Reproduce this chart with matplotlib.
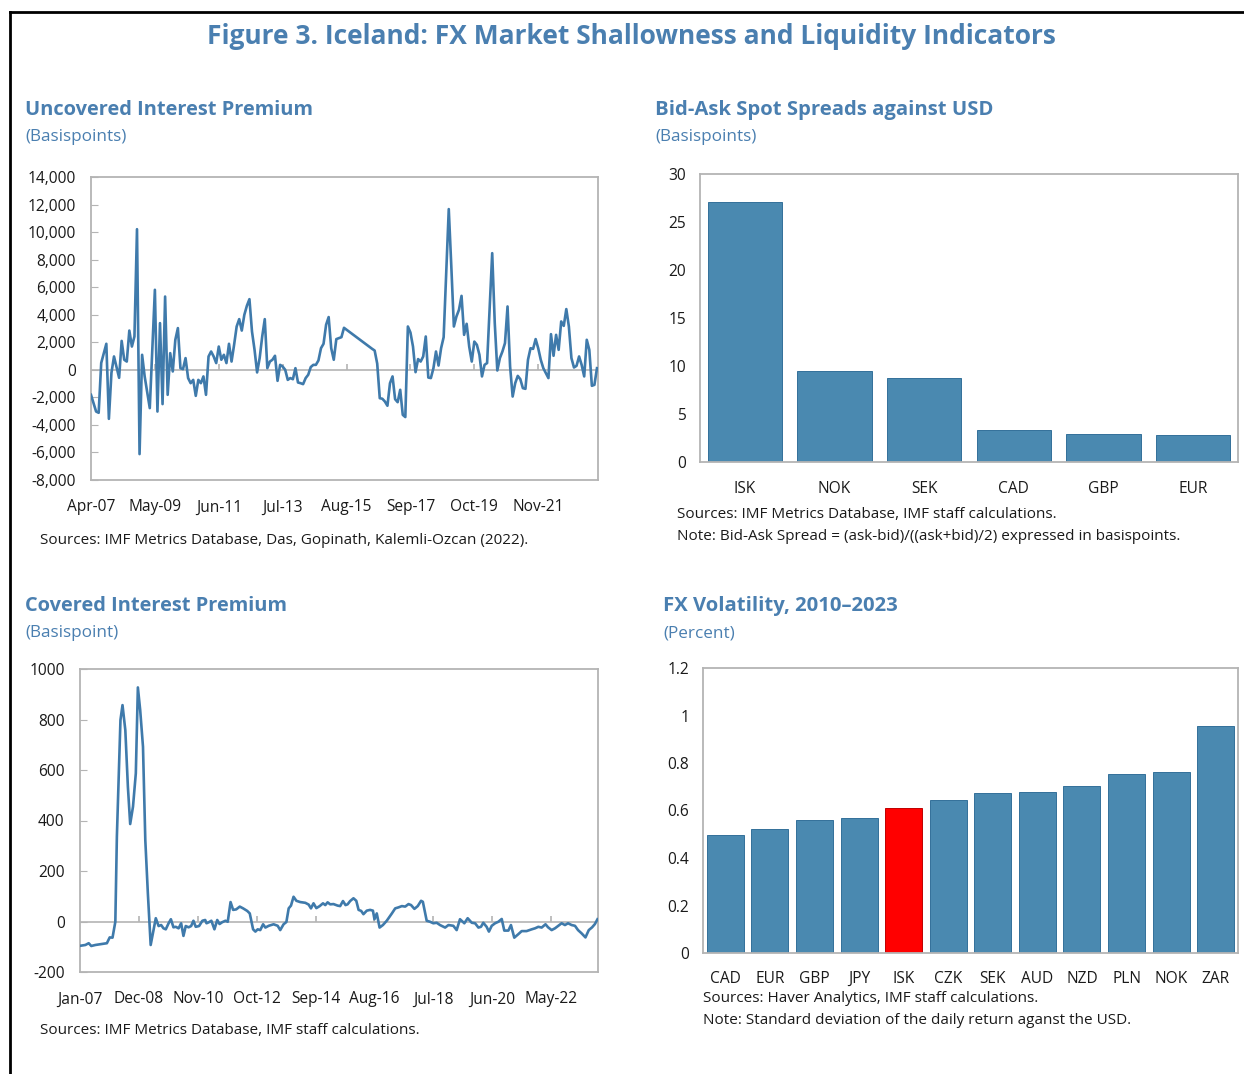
import matplotlib
matplotlib.use("Agg")
import matplotlib.pyplot as plt
import numpy as np

plt.rcParams['font.family'] = ['Open Sans', 'DejaVu Sans']

# ---------------- DATA ----------------
# Uncovered interest premium (basis points), months since Apr-2007
uip_month = [0, 2, 3, 4, 6, 7, 8, 9, 11, 12, 13, 14, 15, 16, 17, 18, 19, 20, 21, 23,
             25, 26, 27, 28, 29, 30, 31, 32, 33, 34, 35, 36, 37, 38, 39, 40, 41, 42, 43, 44,
             45, 46, 47, 48, 49, 50, 51,
             52, 53, 54, 55, 56, 57, 58, 59, 60, 61, 62, 63, 64, 65, 66, 67, 68, 69, 70,
             71, 72, 73, 74, 75, 76, 77, 78, 79, 80, 81, 82, 83, 84, 85, 86, 87, 88, 89,
             90, 91, 92, 93, 94, 95, 96, 97, 98, 99,
             110, 111, 112, 113, 114, 115, 116, 117, 118, 119, 120, 121, 122, 123, 124,
             125, 126, 127, 128, 129, 130, 131, 132, 133, 134, 135, 136, 137, 138, 140,
             141, 142, 143, 144, 145, 146, 147, 148, 149, 150, 151, 152, 153, 154, 155,
             157, 158, 159, 160, 161, 162, 163, 164, 165, 166, 167, 168, 169, 170, 171,
             172, 173, 174, 175, 176, 177, 178, 179, 180, 181, 182, 183, 184, 185, 186,
             187, 188, 189, 190, 191, 192, 193, 194, 195, 196, 197, 198]
uip_value = [-1815, -3030, -3120, 500, 1890, -3560, -220, 970, -580, 2100, 730, 600, 2850,
             1690, 2420, 10210, -6120, 1090, -480, -2780, 5810, -3030, 3390, -2490, 5320,
             -1815, 1210, -120, 2180, 3030, 120, 50, 850, -600, -970, -730, -1890, -730,
             -970, -480, -1815, 970, 1330, 970, 490, 1690, 730,
             1090, 490, 1890, 600, 1815, 3145, 3680, 2850, 3990, 4650, 5130, 2780, 1450,
             -190, 850, 2420, 3680, 120, 600, 730, 1020, -800, 360, 240, 0, -730, -600,
             -680, 120, -920, -970, -1040, -600, -360, 200, 360, 360, 680, 1570, 1890,
             3270, 3830, 1570, 730, 2230, 2300, 2370, 3050,
             1525, 1400, 450, -2060, -2100, -2300, -2610, -970, -480, -2130, -2350, -1450,
             -3270, -3430, 3145, 2710, 1690, -170, 780, 600, 970, 2420, -560, -600, 120,
             1330, 310, 1570, 2370, 11670, 7500, 3145, 3870, 4360, 5370, 2540, 3340, 1690,
             600, 2050, 1815, 1090, -480, 360, 490, 8470, 3390, -50, 850, 1330, 1940,
             4600, 240, -1940, -970, -440, -680, -1330, -1380, 730, 1570, 1520, 2230,
             1570, 730, 120, -240, -600, 2590, 1020, 2540, 1450, 3510, 3190, 4410, 3145,
             850, 170, 290, 970, 360, -480, 2180, 1450, -1160, -1090, 120]
uip_ticks = [0, 25, 50, 75, 100, 125, 150, 175]
uip_ticklabels = ['Apr-07', 'May-09', 'Jun-11', 'Jul-13', 'Aug-15', 'Sep-17', 'Oct-19', 'Nov-21']

# Covered interest premium (basis points), months since Jan-2007
cip_month = [0.2, 2.1, 3.4, 4.4, 6.0, 8.0, 10.5, 11.6, 12.7, 13.8, 14.4, 15.8, 16.6, 17.7,
             18.7, 19.6, 20.7, 21.8, 22.6, 23.5, 24.6, 25.5, 26.5, 27.6, 28.6, 29.6, 30.7,
             31.7, 32.6, 33.5, 34.6, 35.5, 36.5, 37.4, 38.5, 39.5, 40.4, 41.3, 42.4, 43.4,
             44.3, 45.2, 46.5, 47.8, 48.9,
             49.4, 50.3, 51.3, 52.5, 53.6, 54.5, 55.5, 56.8, 57.7, 58.8, 59.8, 61.0, 62.4,
             63.7, 65.3, 66.3, 67.6, 68.5, 69.4, 70.4, 71.5, 72.4, 73.7, 75.6, 77.2, 78.2,
             79.5, 80.6, 81.5, 82.4, 83.4, 84.5, 86.0, 88.0, 89.3, 90.2, 91.2, 92.3, 93.6,
             94.9, 95.8, 96.7, 97.7, 99.0, 100.6, 101.6, 102.7, 103.7, 104.5, 105.5, 106.8,
             107.9, 108.8, 109.8, 110.7, 112.0, 113.3, 114.4, 115.0, 115.9, 117.0, 118.3,
             119.8, 121.8, 123.1,
             124.4, 125.7, 127.0, 128.3, 129.3, 130.6, 131.9, 133.2, 133.9, 135.4, 136.7,
             138.0, 139.3, 140.6, 142.6, 143.9, 145.8, 147.1, 148.4, 150.1, 151.4, 153.0,
             154.3, 155.6, 156.6, 157.5, 158.8, 159.7, 160.8, 162.1, 163.4, 164.7, 165.7,
             167.3, 168.3, 169.6, 171.2, 172.5, 174.4, 176.4, 177.7, 179.0, 180.3, 181.8,
             182.8, 184.2, 185.5, 186.7, 188.1, 189.4, 190.6, 192.0, 193.3, 194.5, 195.9,
             197.4, 198.7, 200.0, 201.1, 202.1]
cip_value = [-96, -93, -86, -97, -93, -90, -86, -63, -64, -1, 336, 798, 857, 758, 534, 386,
             455, 587, 927, 838, 692, 323, 112, -93, -40, 13, -18, -14, -27, -31, -7, 9,
             -23, -21, -27, -7, -57, -18, -23, -18, 3, -21, -18, 3, 6,
             -7, -3, 3, -31, 6, -10, -3, 3, -1, 77, 46, 48, 59, 52, 42, 32, -31, -40, -31,
             -34, -11, -24, -17, -11, -17, -34, -11, -2, 52, 63, 98, 82, 77, 74, 67, 52, 72,
             53, 61, 72, 65, 76, 68, 69, 63, 61, 81, 65, 68, 81, 92, 82, 46, 42, 29, 43, 46,
             43, 9, 32, -24, -14, 3, 32, 52,
             56, 61, 59, 69, 65, 50, 61, 82, 78, 3, -1, -7, -5, -14, -24, -14, -17, -34, 9,
             -7, 13, -5, -7, -24, -21, -5, -21, -40, -17, -7, -1, 10, -36, -36, -14, -64,
             -50, -38, -38, -31, -27, -21, -24, -11, -23, -34, -27, -18, -7, -14, -7, -14,
             -17, -34, -47, -63, -34, -23, -10, 9]
cip_ticks = [0, 23, 46, 69, 92, 115, 138, 161, 184]
cip_ticklabels = ['Jan-07', 'Dec-08', 'Nov-10', 'Oct-12', 'Sep-14', 'Aug-16', 'Jul-18',
                  'Jun-20', 'May-22']

# Bid-ask spreads (basis points)
ba_currency = ['ISK', 'NOK', 'SEK', 'CAD', 'GBP', 'EUR']
ba_spread = [27.1, 9.5, 8.7, 3.35, 2.95, 2.85]

# FX volatility 2010-2023 (percent)
vol_currency = ['CAD', 'EUR', 'GBP', 'JPY', 'ISK', 'CZK', 'SEK', 'AUD', 'NZD', 'PLN', 'NOK', 'ZAR']
vol_value = [0.497, 0.522, 0.562, 0.568, 0.612, 0.646, 0.674, 0.678, 0.703, 0.754, 0.763, 0.956]

# ---------------- STYLE ----------------
W, H = 1244, 1074
BLUE_T = '#4a7fb0'
LINE_C = '#3f7aab'
BAR_C = '#4a89b0'
BAR_E = '#33709a'
GRID_C = '#b4b4b4'
TXT = '#1a1a1a'
TICK_FS = 11.2

fig = plt.figure(figsize=(W / 100, H / 100), dpi=100)


def rect(l, t, r, b):
    return [l / W, 1 - b / H, (r - l) / W, (b - t) / H]


def ftext(x, y, s, **kw):
    fig.text(x / W, 1 - y / H, s, **kw)


# outer frame (left and top rule)
fig.add_artist(plt.Line2D([10 / W, 10 / W], [0, 1 - 12 / H], color='black', lw=2,
                          transform=fig.transFigure))
fig.add_artist(plt.Line2D([10 / W, 1], [1 - 12 / H, 1 - 12 / H], color='black', lw=2,
                          transform=fig.transFigure))

ftext(631, 37, 'Figure 3. Iceland: FX Market Shallowness and Liquidity Indicators',
      ha='center', va='center', color=BLUE_T, fontsize=19, fontweight='bold')


def style_box(ax):
    for s in ax.spines.values():
        s.set_color(GRID_C)
        s.set_linewidth(1.3)


def line_panel(rect_px, months, values, ylim, yticks, yfmt, xlim, xticks, xlabels, tick_h):
    ax = fig.add_axes(rect(*rect_px))
    ax.plot(months, values, color=LINE_C, lw=1.9, solid_joinstyle='round', zorder=3)
    ax.axhline(0, color=GRID_C, lw=1.2, zorder=1)
    ax.vlines(xticks[1:], 0, tick_h, color=GRID_C, lw=1.2, zorder=1)
    ax.set_xlim(*xlim)
    ax.set_ylim(*ylim)
    ax.set_yticks(yticks)
    ax.set_yticklabels([yfmt(v) for v in yticks])
    ax.set_xticks(xticks)
    ax.set_xticklabels(xlabels)
    ax.tick_params(axis='y', direction='in', length=5, color=GRID_C, pad=11,
                   labelsize=TICK_FS, labelcolor=TXT)
    ax.tick_params(axis='x', length=0, pad=14, labelsize=TICK_FS, labelcolor=TXT)
    style_box(ax)
    return ax


# ---- Uncovered Interest Premium ----
ftext(25, 110, 'Uncovered Interest Premium', ha='left', va='center', color=BLUE_T,
      fontsize=14.4, fontweight='bold')
ftext(25, 137, '(Basispoints)', ha='left', va='center', color=BLUE_T, fontsize=12.3)
line_panel((91, 177, 598, 480), uip_month, uip_value, (-8000, 14000),
           list(range(-8000, 14001, 2000)), lambda v: f'{v:,}', (0, 198.4),
           uip_ticks, uip_ticklabels, 420)
ftext(40, 540, 'Sources: IMF Metrics Database, Das, Gopinath, Kalemli-Ozcan (2022).',
      ha='left', va='center', color=TXT, fontsize=11)

# ---- Covered Interest Premium ----
ftext(25, 606, 'Covered Interest Premium', ha='left', va='center', color=BLUE_T,
      fontsize=14.4, fontweight='bold')
ftext(25, 633, '(Basispoint)', ha='left', va='center', color=BLUE_T, fontsize=12.3)
line_panel((80, 669, 598, 972), cip_month, cip_value, (-200, 1000),
           list(range(-200, 1001, 200)), lambda v: f'{v}', (0, 202.3),
           cip_ticks, cip_ticklabels, 20)
ftext(40, 1031, 'Sources: IMF Metrics Database, IMF staff calculations.',
      ha='left', va='center', color=TXT, fontsize=11)

# ---- Bid-Ask Spreads ----
ftext(655, 110, 'Bid-Ask Spot Spreads against USD', ha='left', va='center', color=BLUE_T,
      fontsize=14.6, fontweight='bold')
ftext(655, 137, '(Basispoints)', ha='left', va='center', color=BLUE_T, fontsize=12.3)
ax3 = fig.add_axes(rect(700, 174, 1238, 462))
x3 = np.arange(len(ba_currency))
ax3.bar(x3, ba_spread, width=0.83, color=BAR_C, edgecolor=BAR_E, linewidth=0.7, zorder=2)
ax3.set_xlim(-0.5, len(ba_currency) - 0.5)
ax3.set_ylim(0, 30)
ax3.set_yticks(range(0, 31, 5))
ax3.set_xticks(x3)
ax3.set_xticklabels(ba_currency)
ax3.tick_params(axis='both', length=0, labelsize=TICK_FS, labelcolor=TXT)
ax3.tick_params(axis='y', pad=10)
ax3.tick_params(axis='x', pad=14)
style_box(ax3)
ftext(677, 515, 'Sources: IMF Metrics Database, IMF staff calculations.',
      ha='left', va='center', color=TXT, fontsize=11)
ftext(677, 537, 'Note: Bid-Ask Spread = (ask-bid)/((ask+bid)/2) expressed in basispoints.',
      ha='left', va='center', color=TXT, fontsize=11)

# ---- FX Volatility ----
ftext(663, 606, 'FX Volatility, 2010\u20132023', ha='left', va='center', color=BLUE_T,
      fontsize=14.6, fontweight='bold')
ftext(663, 633, '(Percent)', ha='left', va='center', color=BLUE_T, fontsize=12.3)
ax4 = fig.add_axes(rect(703, 668, 1238, 953))
x4 = np.arange(len(vol_currency))
colors4 = ['#ff0000' if c == 'ISK' else BAR_C for c in vol_currency]
edges4 = ['#c00000' if c == 'ISK' else BAR_E for c in vol_currency]
ax4.bar(x4, vol_value, width=0.83, color=colors4, edgecolor=edges4, linewidth=0.7, zorder=2)
ax4.set_xlim(-0.5, len(vol_currency) - 0.5)
ax4.set_ylim(0, 1.2)
yt4 = [0, 0.2, 0.4, 0.6, 0.8, 1.0, 1.2]
ax4.set_yticks(yt4)
ax4.set_yticklabels(['0', '0.2', '0.4', '0.6', '0.8', '1', '1.2'])
ax4.set_xticks(x4)
ax4.set_xticklabels(vol_currency)
ax4.tick_params(axis='both', length=0, labelsize=TICK_FS, labelcolor=TXT)
ax4.tick_params(axis='y', pad=10)
ax4.tick_params(axis='x', pad=13)
style_box(ax4)
ftext(703, 998, 'Sources: Haver Analytics, IMF staff calculations.',
      ha='left', va='center', color=TXT, fontsize=11)
ftext(703, 1020, 'Note: Standard deviation of the daily return aganst the USD.',
      ha='left', va='center', color=TXT, fontsize=11)

fig.savefig('out.png', dpi=100)
